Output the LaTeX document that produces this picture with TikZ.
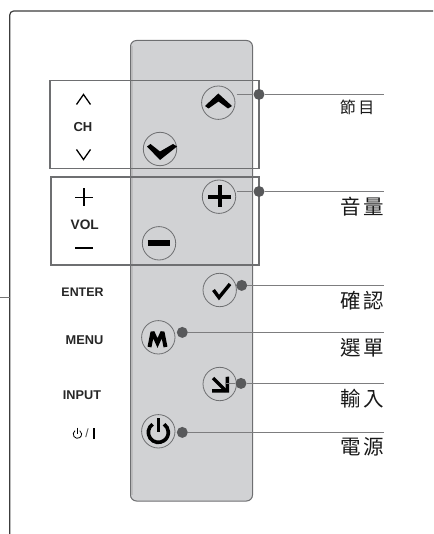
\documentclass[tikz,border=0pt]{standalone}
\usepackage{fontspec}
\setmainfont{Liberation Sans}
\newfontfamily\cjk{Noto Sans CJK TC}
\definecolor{panelgray}{HTML}{D1D2D4}
\definecolor{edgegray}{HTML}{6E6F71}
\definecolor{dotgray}{HTML}{58595B}
\definecolor{framegray}{HTML}{3C3C3C}
\tikzset{
  btn/.style={circle,draw=edgegray,line width=0.8pt,minimum size=33.4pt,inner sep=0pt},
  dotn/.style={circle,fill=dotgray,minimum size=11pt,inner sep=0pt},
  lead/.style={draw=edgegray!90,line width=1.1pt},
  groupbox/.style={draw=edgegray,line width=1.4pt},
  lab/.style={font=\bfseries\fontsize{13}{14}\selectfont,text=black!85,inner sep=0pt},
  labs/.style={font=\bfseries\fontsize{12.4}{14}\selectfont,text=black!85,inner sep=0pt},
  zh/.style={font=\cjk\fontsize{20.5}{22}\selectfont,text=black!90,inner sep=0pt}
}
\begin{document}
\begin{tikzpicture}[x=1pt,y=-1pt]
\useasboundingbox (0,0) rectangle (433,534);
% frame
\draw[framegray,line width=1.2pt,rounded corners=4pt] (9.7,534) -- (9.7,11) -- (433,11);
\draw[black!55,line width=0.8pt] (0,297.5) -- (9.7,297.5);
% panel
\draw[edgegray,line width=1pt,fill=panelgray,rounded corners=6pt] (130.5,40.5) rectangle (252.5,501);
\fill[black!30,opacity=.6] (131,46) rectangle (133,495);
% buttons
\node[btn] (up) at (218.3,102.7) {};
\node[btn] (down) at (160,149) {};
\node[btn] (plus) at (219,196.7) {};
\node[btn] (minus) at (159,243.3) {};
\node[btn] (ok) at (219.7,290) {};
\node[btn] (menu) at (158.3,337.3) {};
\node[btn] (input) at (219.7,384) {};
\node[btn] (power) at (158.3,431.3) {};
% button glyphs
\fill (205,106) -- (218.3,93.5) -- (232,106) -- (228,108.5) -- (218.5,101.5) -- (208.5,108.5) -- cycle;
\fill (147,146.5) -- (150.5,144) -- (160,151.5) -- (173,144) -- (177,146.5) -- (160,160) -- cycle;
\draw[line width=4pt] (208,196.7) -- (231,196.7) (219.5,185) -- (219.5,207.5);
\draw[line width=6pt] (147.7,243.3) -- (170,243.3);
\draw[line width=3.4pt,line join=miter] (213.5,290) -- (219,297.5) -- (230,284);
\draw[line width=4pt,line join=miter,miter limit=3] (149.5,347) -- (152.5,332) -- (157.5,343) -- (162.5,332) -- (165.5,347);
\draw[line width=3.4pt] (213,378) -- (226,391);
\fill (225.5,377) -- (229,376.5) -- (229,392.5) -- (212,392.5) -- (212,389) -- (225.5,389) -- cycle;
\draw[line width=3.6pt] (152.6,424.2) arc[start angle=125,delta angle=290,radius=10pt];
\draw[line width=3.6pt] (158.3,418) -- (158.3,432);
% group boxes
\draw[groupbox] (50,80.5) rectangle (259,168.5);
\draw[groupbox] (51,177) rectangle (259,265);
% dots
\node[dotn] (dup) at (259,94.4) {};
\node[dotn] (dplus) at (259,191.5) {};
\node[dotn] (dok) at (241.7,285.4) {};
\node[dotn] (dmenu) at (182.3,332.4) {};
\node[dotn] (dinput) at (241,383.4) {};
\node[dotn] (dpower) at (182.3,432.4) {};
% leaders
\coordinate (eup) at (384,94.4);
\coordinate (eplus) at (384,191.5);
\coordinate (eok) at (384,285.4);
\coordinate (emenu) at (384,332.4);
\coordinate (einput) at (384,383.4);
\coordinate (epower) at (384,432.4);
\coordinate (sup) at (236.5,94.4);
\coordinate (splus) at (236.5,191.5);
\coordinate (sinput) at (225,383.4);
\path[lead] (sup) -- (dup) -- (eup);
\path[lead] (splus) -- (dplus) -- (eplus);
\path[lead] (dok) -- (eok);
\path[lead] (dmenu) -- (emenu);
\path[lead] (sinput) -- (dinput) -- (einput);
\path[lead] (dpower) -- (epower);
% left captions
\draw[line width=1.3pt,black] (76.5,104.5) -- (83.5,94.5) -- (90.5,104.5);
\node[lab] (ch) at (83,127) {CH};
\draw[line width=1.3pt,black] (76.5,149.5) -- (83.5,159.5) -- (90.5,149.5);
\draw[line width=1.6pt,black] (75,197.5) -- (92.5,197.5) (83.7,188.5) -- (83.7,206);
\node[lab,font=\bfseries\fontsize{13.7}{14}\selectfont] (vol) at (84.7,225) {VOL};
\draw[line width=2pt,black] (75,247.5) -- (92.5,247.5);
\node[labs] (enter) at (82.5,292) {ENTER};
\node[labs,font=\bfseries\fontsize{12.8}{14}\selectfont] (menulab) at (84.5,340) {MENU};
\node[labs,font=\bfseries\fontsize{12.7}{14}\selectfont] (inputlab) at (82,395) {INPUT};
\draw[line width=0.8pt] (75,430.7) arc[start angle=125,delta angle=290,radius=4.2pt];
\draw[line width=0.8pt] (77.4,427.5) -- (77.4,434);
\node[font=\fontsize{12}{14}\selectfont,inner sep=0pt,text=black!75] (slash) at (87,433.7) {/};
\draw[line width=1.8pt] (94,428) -- (94,439);
% right captions
\node[zh,font=\cjk\fontsize{16}{18}\selectfont] (t1) at (357,107.7) {節\hspace{2.5pt}目};
\node[zh] (t2) at (362,207) {音\hspace{3pt}量};
\node[zh] (t3) at (362,300.7) {確\hspace{2.5pt}認};
\node[zh] (t4) at (362,347.7) {選\hspace{2.5pt}單};
\node[zh] (t5) at (362,399) {輸\hspace{2.5pt}入};
\node[zh] (t6) at (362,447) {電\hspace{2.5pt}源};
\end{tikzpicture}
\end{document}
